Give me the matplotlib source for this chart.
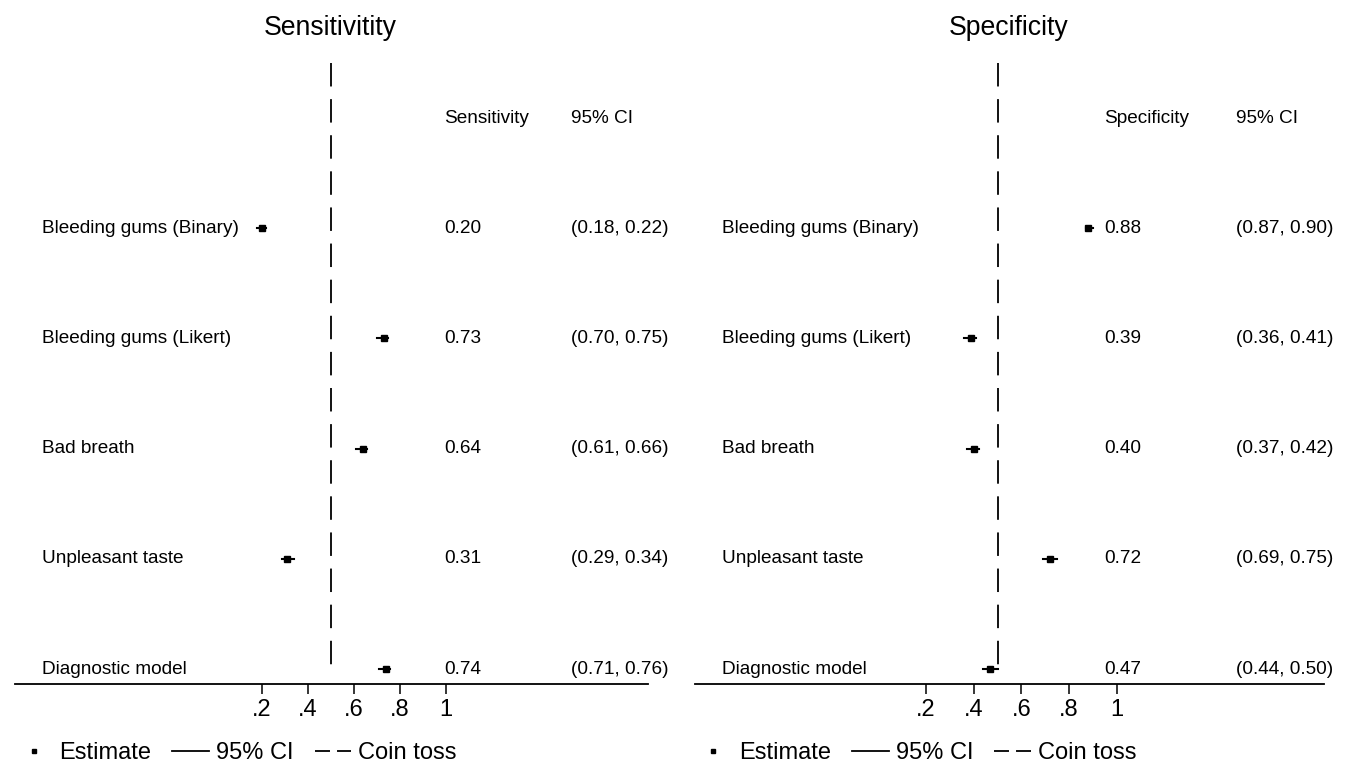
import matplotlib
matplotlib.use('agg')
import matplotlib.pyplot as plt
from matplotlib.lines import Line2D

plt.rcParams['font.family'] = ['Liberation Sans', 'DejaVu Sans']

# Data
labels = ["Bleeding gums (Binary)", "Bleeding gums (Likert)", "Bad breath",
          "Unpleasant taste", "Diagnostic model"]

sens_est = [0.20, 0.73, 0.64, 0.31, 0.74]
sens_lo = [0.18, 0.70, 0.61, 0.29, 0.71]
sens_hi = [0.22, 0.75, 0.66, 0.34, 0.76]

spec_est = [0.88, 0.39, 0.40, 0.72, 0.47]
spec_lo = [0.87, 0.36, 0.37, 0.69, 0.44]
spec_hi = [0.90, 0.41, 0.42, 0.75, 0.50]

xticks = [0.2, 0.4, 0.6, 0.8, 1.0]
xtick_labels = [".2", ".4", ".6", ".8", "1"]
coin_toss = 0.5

BODY = 13.7
BIG = 17.0


def draw_panel(ax, est, lo, hi, col_name, xlim, label_x, val_x, ci_x):
    n = len(labels)
    ys = list(range(n, 0, -1))  # top row first
    # coin toss reference line
    ax.plot([coin_toss, coin_toss], [6.5, 1], color='black', lw=1.3,
            linestyle=(0, (13, 7)), solid_capstyle='butt', zorder=1)
    for y, e, l, h, lab in zip(ys, est, lo, hi, labels):
        ax.plot([l, h], [y, y], color='black', lw=1.5, zorder=2)
        ax.plot(e, y, marker='s', ms=4, color='black', zorder=3)
        ax.text(label_x, y, lab, fontsize=BODY, va='center', ha='left')
        ax.text(val_x, y, f"{e:.2f}", fontsize=BODY, va='center', ha='left')
        ax.text(ci_x, y, f"({l:.2f}, {h:.2f})", fontsize=BODY, va='center', ha='left')
    ax.text(val_x, 6, col_name, fontsize=BODY, va='center', ha='left')
    ax.text(ci_x, 6, "95% CI", fontsize=BODY, va='center', ha='left')

    ax.set_xlim(*xlim)
    ax.set_ylim(0.864, 6.5)
    for s in ['top', 'right', 'left']:
        ax.spines[s].set_visible(False)
    ax.spines['bottom'].set_linewidth(1.3)
    ax.set_yticks([])
    ax.set_xticks(xticks)
    ax.set_xticklabels(xtick_labels, fontsize=BIG)
    ax.tick_params(axis='x', length=7, width=1.1, pad=4)

    handles = [Line2D([], [], color='black', marker='s', ms=3, lw=0),
               Line2D([], [], color='black', lw=1.3),
               Line2D([], [], color='black', lw=1.3, linestyle=(0, (8.3, 3.9)))]
    ax.legend(handles, ["Estimate", "95% CI", "Coin toss"], ncol=3,
              loc='center left', bbox_to_anchor=(0.0, -0.111), frameon=False,
              fontsize=BIG, handlelength=1.55, handletextpad=0.3,
              columnspacing=0.9, borderaxespad=0, borderpad=0)


fig = plt.figure(figsize=(13.59, 7.72), dpi=100)
W, H = 1359, 772
ax1 = fig.add_axes([15.3 / W, 1 - 684 / H, (648 - 15.3) / W, (684 - 63) / H])
ax2 = fig.add_axes([695 / W, 1 - 684 / H, (1324 - 695) / W, (684 - 63) / H])

draw_panel(ax1, sens_est, sens_lo, sens_hi, "Sensitivity",
           (-0.871, 1.880), -0.757, 0.993, 1.545)
draw_panel(ax2, spec_est, spec_lo, spec_hi, "Specificity",
           (-0.769, 1.869), -0.657, 0.947, 1.50)

fig.text(330 / W, 1 - 28 / H, "Sensitivitity", fontsize=19.2, ha='center', va='center')
fig.text(1009 / W, 1 - 28 / H, "Specificity", fontsize=19.2, ha='center', va='center')

fig.savefig('out.png', dpi=100)
plt.close(fig)
